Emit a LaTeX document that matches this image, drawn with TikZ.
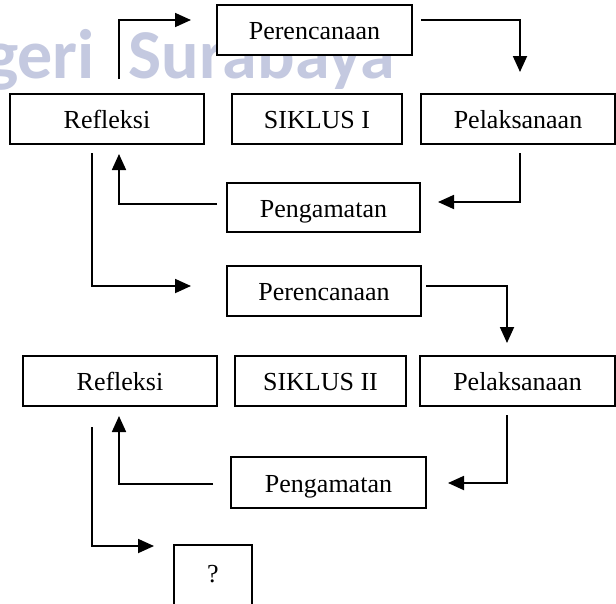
\documentclass[tikz,border=0pt]{standalone}
\usepackage{fontspec}
\setmainfont{Liberation Serif}
\newfontfamily\wmfont{Carlito}
\usetikzlibrary{arrows.meta}
\definecolor{wmcol}{RGB}{196,201,224}
\tikzset{
  box/.style={draw, fill=white, line width=1.8pt, rectangle, inner sep=0pt,
    text height=19pt, text depth=0pt, font=\fontsize{26}{30}\selectfont},
  arr/.style={line width=1.8pt, -{Triangle[length=16pt,width=14pt]}},
}
\begin{document}
\begin{tikzpicture}[x=1pt,y=-1pt]
\clip (0,0) rectangle (616,603);
\fill[white] (0,0) rectangle (616,603);
\node[anchor=base west, inner sep=0pt, text=wmcol,
  font=\wmfont\bfseries\fontsize{70}{72}\selectfont] (wm) at (-15,78) {geri\hspace{34pt}Surabaya};
% cycle I
\node[box, minimum width=195pt, minimum height=50pt] (P1) at (314.5,30) {Perencanaan};
\node[box, minimum width=194pt, minimum height=50pt] (R1) at (107,119) {Refleksi};
\node[box, minimum width=170pt, minimum height=50pt] (S1) at (317,119) {SIKLUS I};
\node[box, minimum width=194pt, minimum height=50pt] (L1) at (518,119) {Pelaksanaan};
\node[box, minimum width=193pt, minimum height=49pt] (G1) at (323.5,207.5) {Pengamatan};
% cycle II
\node[box, minimum width=194pt, minimum height=50pt] (P2) at (324,291) {Perencanaan};
\node[box, minimum width=194pt, minimum height=50pt] (R2) at (120,381) {Refleksi};
\node[box, minimum width=171pt, minimum height=50pt] (S2) at (320.5,381) {SIKLUS II};
\node[box, minimum width=195pt, minimum height=50pt] (L2) at (517.5,381) {Pelaksanaan};
\node[box, minimum width=195pt, minimum height=51pt] (G2) at (328.5,482.5) {Pengamatan};
\node[box, minimum width=78pt, text height=37pt, text depth=50pt, anchor=base] (Q) at (213,582) {?};
% connector ends
\coordinate (a1s) at (119,79);  \coordinate (a1e) at (191,20);
\coordinate (a2s) at (421,20);  \coordinate (a2e) at (520,72);
\coordinate (a3s) at (520,153); \coordinate (a3e) at (438,202);
\coordinate (a4s) at (217,204); \coordinate (a4e) at (119,154);
\coordinate (a5s) at (92,153);  \coordinate (a5e) at (191,286);
\coordinate (a6s) at (426,286); \coordinate (a6e) at (507,343);
\coordinate (a7s) at (507,415); \coordinate (a7e) at (448,483);
\coordinate (a8s) at (213,484); \coordinate (a8e) at (119,416);
\coordinate (a9s) at (92,427);  \coordinate (a9e) at (154,546);
\draw[arr] (a1s) |- (a1e);
\draw[arr] (a2s) -| (a2e);
\draw[arr] (a3s) |- (a3e);
\draw[arr] (a4s) -| (a4e);
\draw[arr] (a5s) |- (a5e);
\draw[arr] (a6s) -| (a6e);
\draw[arr] (a7s) |- (a7e);
\draw[arr] (a8s) -| (a8e);
\draw[arr] (a9s) |- (a9e);
\end{tikzpicture}
\end{document}
